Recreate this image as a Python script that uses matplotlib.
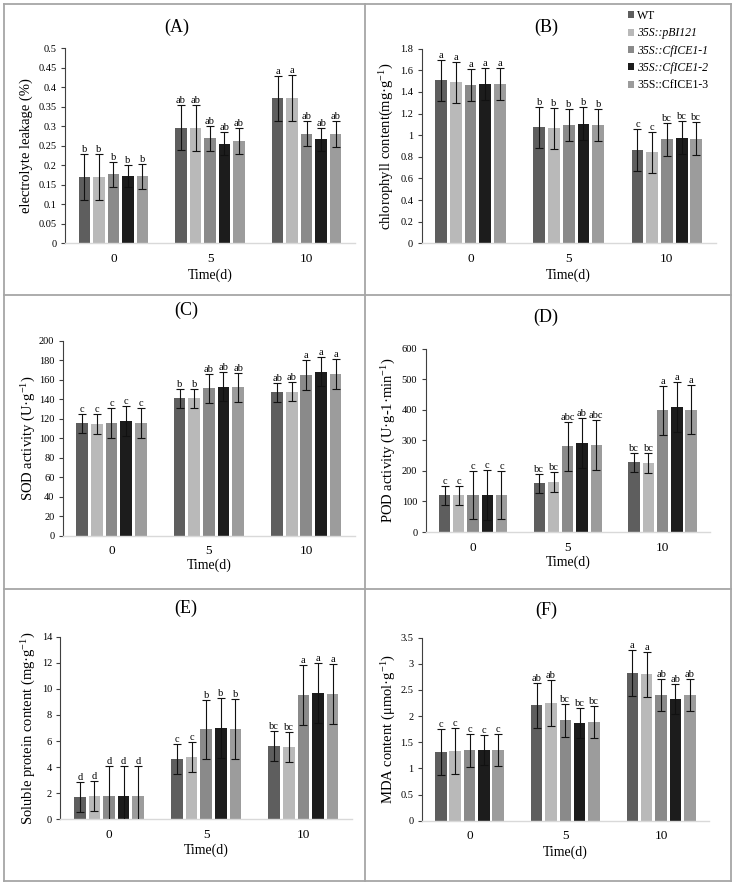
import matplotlib
matplotlib.use('Agg')
import matplotlib.pyplot as plt
import numpy as np
from matplotlib.patches import Patch
from matplotlib.lines import Line2D
from matplotlib.ticker import FixedLocator, FuncFormatter

plt.rcParams['font.family'] = ['Liberation Serif', 'DejaVu Serif']
plt.rcParams['mathtext.fontset'] = 'custom'
plt.rcParams['mathtext.rm'] = 'Liberation Serif'
plt.rcParams['mathtext.it'] = 'Liberation Serif:italic'

# ---------------- data ----------------
times = ['0', '5', '10']
genotypes = ['WT', '35S::pBI121', '35S::CfICE1-1', '35S::CfICE1-2', '35S::CfICE1-3']
italic_label = [False, True, True, True, False]
colors = ['#5e5e5e', '#b9b9b9', '#8a8a8a', '#1c1c1c', '#9c9c9c']

# (A) electrolyte leakage: rows = genotype, cols = time
el_mean = [[0.170, 0.296, 0.371], [0.170, 0.295, 0.372], [0.177, 0.269, 0.281],
           [0.172, 0.255, 0.266], [0.172, 0.262, 0.279]]
el_err = [[0.058, 0.058, 0.058], [0.058, 0.058, 0.058], [0.032, 0.032, 0.033],
          [0.028, 0.029, 0.029], [0.032, 0.033, 0.033]]
el_let = [['b', 'ab', 'a'], ['b', 'ab', 'a'], ['b', 'ab', 'ab'], ['b', 'ab', 'ab'], ['b', 'ab', 'ab']]

# (B) chlorophyll
ch_mean = [[1.51, 1.073, 0.863], [1.49, 1.063, 0.842], [1.464, 1.094, 0.962],
           [1.476, 1.107, 0.977], [1.476, 1.094, 0.968]]
ch_err = [[0.19, 0.19, 0.19], [0.19, 0.19, 0.19], [0.15, 0.15, 0.15],
          [0.15, 0.15, 0.15], [0.15, 0.15, 0.15]]
ch_let = [['a', 'b', 'c'], ['a', 'b', 'c'], ['a', 'b', 'bc'], ['a', 'b', 'bc'], ['a', 'b', 'bc']]

# (C) SOD
sod_mean = [[115.2, 140.9, 147.0], [114.5, 140.9, 147.7], [115.6, 151.1, 164.8],
            [117.6, 152.8, 168.2], [115.6, 152.1, 165.8]]
sod_err = [[10, 10, 10], [10, 10, 10], [15, 15, 15], [15, 15, 15], [15, 15, 15]]
sod_let = [['c', 'b', 'ab'], ['c', 'b', 'ab'], ['c', 'ab', 'a'], ['c', 'ab', 'a'], ['c', 'ab', 'a']]

# (D) POD
pod_mean = [[120, 159, 228], [120, 163.6, 225.8], [121, 281, 398],
            [122, 291, 408], [121, 283.6, 400]]
pod_err = [[31, 32, 32], [31, 32, 32], [80, 80, 80], [82, 83, 82], [80, 82, 80]]
pod_let = [['c', 'bc', 'bc'], ['c', 'bc', 'bc'], ['c', 'abc', 'a'], ['c', 'ab', 'a'], ['c', 'abc', 'a']]

# (E) soluble protein
sp_mean = [[1.74, 4.62, 5.60], [1.76, 4.80, 5.54], [1.76, 6.90, 9.53],
           [1.79, 7.03, 9.68], [1.76, 6.92, 9.61]]
sp_err = [[1.15, 1.16, 1.16], [1.15, 1.16, 1.16], [2.3, 2.27, 2.3],
          [2.3, 2.3, 2.3], [2.3, 2.3, 2.3]]
sp_let = [['d', 'c', 'bc'], ['d', 'c', 'bc'], ['d', 'b', 'a'], ['d', 'b', 'a'], ['d', 'b', 'a']]

# (F) MDA
mda_mean = [[1.307, 2.21, 2.817], [1.332, 2.243, 2.804], [1.345, 1.918, 2.403],
            [1.358, 1.874, 2.326], [1.351, 1.887, 2.403]]
mda_err = [[0.44, 0.43, 0.44], [0.44, 0.44, 0.43], [0.31, 0.31, 0.31],
           [0.29, 0.29, 0.28], [0.31, 0.31, 0.30]]
mda_let = [['c', 'ab', 'a'], ['c', 'ab', 'a'], ['c', 'bc', 'ab'], ['c', 'bc', 'ab'], ['c', 'bc', 'ab']]

# ---------------- figure ----------------
W, H = 735, 886
fig = plt.figure(figsize=(W / 100, H / 100), dpi=100)
fig.patch.set_facecolor('white')


def fx(px):
    return px / W


def fy(py):
    return 1 - py / H


def panel(box, means, errs, lets, ymax, ystep, ylabel, title, title_xy, ylab_x, xlab_y):
    l, r, t, b = box
    ax = fig.add_axes([fx(l), fy(b), fx(r) - fx(l), fy(t) - fy(b)])
    x = np.arange(len(times))
    for i in range(len(genotypes)):
        xs = x + (i - 2) * 0.15
        ax.bar(xs, means[i], width=0.12, color=colors[i], zorder=2)
        ax.errorbar(xs, means[i], yerr=errs[i], fmt='none', ecolor='#111111',
                    elinewidth=0.8, capsize=3, capthick=0.8, zorder=3)
        for j in range(len(times)):
            ax.text(xs[j], means[i][j] + errs[i][j], lets[i][j], ha='center',
                    va='bottom', fontsize=7.5, zorder=4)
    ax.set_xlim(-0.5, 2.5)
    ax.set_ylim(0, ymax)
    ticks = np.round(np.arange(0, ymax + ystep / 2, ystep), 3)
    ax.yaxis.set_major_locator(FixedLocator(ticks))
    ax.yaxis.set_major_formatter(FuncFormatter(lambda v, p: '{:g}'.format(round(v, 3))))
    ax.set_xticks(x)
    ax.set_xticklabels(times)
    ax.tick_params(axis='x', length=0, pad=7, labelsize=9.5)
    ax.tick_params(axis='y', length=3, width=0.8, color='#404040', pad=3, labelsize=7.5,
                   direction='out')
    for s in ['top', 'right']:
        ax.spines[s].set_visible(False)
    ax.spines['left'].set_color('#404040')
    ax.spines['left'].set_linewidth(0.8)
    ax.spines['bottom'].set_color('#d9d9d9')
    ax.spines['bottom'].set_linewidth(1.0)
    ax.set_ylabel(ylabel, fontsize=10.5, va='center')
    ax.yaxis.set_label_coords((ylab_x - l) / (r - l), 0.5)
    ax.set_xlabel('Time(d)', fontsize=10, va='center')
    ax.xaxis.set_label_coords(0.5, -(xlab_y - b) / (b - t))
    fig.text(fx(title_xy[0]), fy(title_xy[1]), title, ha='center', va='center', fontsize=13)
    return ax


axA = panel((65, 355, 48, 243.3), el_mean, el_err, el_let, 0.5, 0.05,
            'electrolyte leakage (%)', '(A)', (177, 27), 26, 275)
axB = panel((421.5, 716, 48.7, 243.3), ch_mean, ch_err, ch_let, 1.8, 0.2,
            'chlorophyll content(mg·g$^{-1}$)', '(B)', (546, 27), 387, 275)
axC = panel((62.75, 355, 340.7, 535.7), sod_mean, sod_err, sod_let, 200, 20,
            'SOD activity (U·g$^{-1}$)', '(C)', (186, 310), 29, 565)
axD = panel((425.6, 710, 348.7, 532), pod_mean, pod_err, pod_let, 600, 100,
            'POD activity (U·g-1·min$^{-1}$)', '(D)', (546, 317), 389, 562)
axE = panel((60.4, 352, 636.7, 819.3), sp_mean, sp_err, sp_let, 14, 2,
            'Soluble protein content (mg·g$^{-1}$)', '(E)', (186, 608), 29, 850)
axF = panel((421.6, 709, 637.7, 820.7), mda_mean, mda_err, mda_let, 3.5, 0.5,
            'MDA content (μmol·g$^{-1}$)', '(F)', (546, 610), 389, 852)

# legend
handles = [Patch(facecolor=c, edgecolor='none') for c in colors]
leg = fig.legend(handles, genotypes, loc='upper left',
                 bbox_to_anchor=(fx(628), fy(10)), frameon=False, fontsize=8.5,
                 handlelength=0.55, handleheight=0.55, handletextpad=0.25,
                 labelspacing=0.45, borderpad=0, borderaxespad=0)
for txt, it in zip(leg.get_texts(), italic_label):
    if it:
        txt.set_fontstyle('italic')

# panel borders
bc = '#a6a6a6'
lw = 1.3
for (x0, y0, x1, y1) in [(4, 4, 731, 4), (4, 881, 731, 881), (4, 4, 4, 881), (731, 4, 731, 881),
                         (365, 4, 365, 881), (4, 295, 731, 295), (4, 589, 731, 589)]:
    fig.add_artist(Line2D([fx(x0), fx(x1)], [fy(y0), fy(y1)], color=bc, lw=lw,
                          transform=fig.transFigure))

fig.savefig('out.png', dpi=100, facecolor='white')
